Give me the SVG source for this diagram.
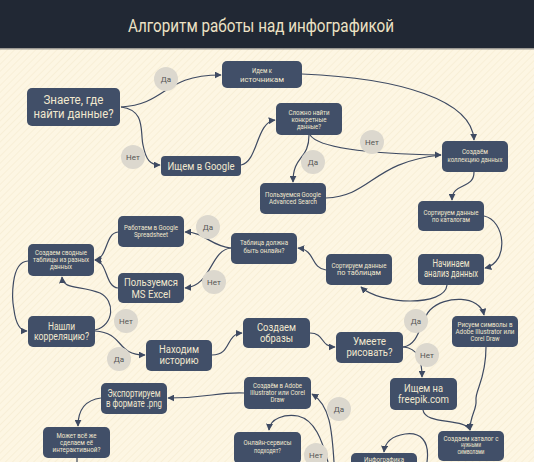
<svg xmlns="http://www.w3.org/2000/svg" width="534" height="462" viewBox="0 0 534 462">
<defs>
<pattern id="stripes" width="5" height="5" patternUnits="userSpaceOnUse" patternTransform="rotate(45)">
<rect width="5" height="5" fill="#fdf6e3"/>
<line x1="0" y1="0" x2="0" y2="5" stroke="#f7edd4" stroke-width="1.5"/>
</pattern>
<marker id="arr" viewBox="0 0 10 10" refX="9" refY="5" markerWidth="7" markerHeight="7" markerUnits="userSpaceOnUse" orient="auto">
<path d="M0,0 L10,5 L0,10 Z" fill="#3e4a62"/>
</marker>
</defs>
<style>
.n rect{fill:#414f68;}
.n text{fill:#f1e8cf;font-family:Roboto,"Noto Sans",sans-serif;text-anchor:middle;}
.s{font-size:7px;}
.m{font-size:11px;}
.b{font-size:12.5px;}
.c path{fill:none;stroke:#3e4a62;stroke-width:1.2;}
.c .a{marker-end:url(#arr);}
.l circle{fill:#dcd8ce;}
.l text{fill:#555;font-family:Roboto,"Noto Sans",sans-serif;font-size:8px;text-anchor:middle;}
</style>
<rect width="534" height="462" fill="url(#stripes)"/>
<rect width="534" height="48" fill="#212834"/>
<rect y="48" width="534" height="1.5" fill="#9c9a94"/>
<text x="261" y="32" fill="#ede2c5" font-family="Roboto,'Noto Sans',sans-serif" font-size="18" text-anchor="middle" textLength="266" lengthAdjust="spacingAndGlyphs">Алгоритм работы над инфографикой</text>

<g id="connectors" class="c">
<path class="a" d="M121,107 C168,104 162,75 221,75"/>
<path class="a" d="M121,107 C146,110 140,132 143,145 C146,160 150,165 160,165"/>
<path class="a" d="M302,74 C400,78 472,100 474,140"/>
<path class="a" d="M241,165 C258,162 256,122 275,120"/>
<path class="a" d="M310,135 C320,150 380,154 441,155"/>
<path class="a" d="M309,135 C309,160 293,155 293,182"/>
<path d="M326,198 C372,196 372,162 441,155"/>
<path class="a" d="M474,172 C474,190 452,182 452,200"/>
<path class="a" d="M484,216 C505,220 510,262 485,268"/>
<path class="a" d="M447,285 C445,307 380,305 361,287"/>
<path class="a" d="M326,270 C310,268 316,250 298,248"/>
<path class="a" d="M231,248 C210,246 205,232 185,232"/>
<path class="a" d="M231,248 C210,250 212,286 185,288"/>
<path class="a" d="M118,232 C105,233 108,258 95,260"/>
<path class="a" d="M118,288 C105,287 108,262 95,260"/>
<path class="a" d="M28,261 C10,262 12,300 14,310 C16,325 20,331 27,331"/>
<path class="a" d="M95,330 C115,325 115,300 100,293 C80,285 63,290 62,277"/>
<path class="a" d="M95,331 C125,333 115,355 145,355"/>
<path class="a" d="M212,355 C232,355 225,334 242,333"/>
<path class="a" d="M310,333 C325,333 320,347 335,347"/>
<path class="a" d="M403,347 C420,345 420,320 430,310 C445,295 480,295 484,315"/>
<path class="a" d="M403,347 C418,348 422,360 422,377"/>
<path class="a" d="M486,347 C486,380 475,390 476,400 C477,410 470,415 470,430"/>
<path class="a" d="M423,410 C425,425 465,418 470,430"/>
<path class="a" d="M427,462 C430,440 420,432 405,434 C392,436 385,442 384,452"/>
<path class="a" d="M244,393 C215,392 210,398 168,398"/>
<path class="a" d="M101,398 C85,400 78,410 78,426"/>
<path d="M77,458 L77,462"/>
<path class="a" d="M334,462 C332,430 330,405 312,394"/>
<path class="a" d="M328,462 C322,440 315,420 298,416 C285,414 270,418 269,430"/>
</g>

<g id="labels" class="l">
<circle cx="166" cy="79" r="12"/><text x="166" y="82">Да</text>
<circle cx="133" cy="157" r="12"/><text x="133" y="160">Нет</text>
<circle cx="372" cy="142" r="12"/><text x="372" y="145">Нет</text>
<circle cx="313" cy="162" r="12"/><text x="313" y="165">Да</text>
<circle cx="208" cy="227" r="12"/><text x="208" y="230">Да</text>
<circle cx="214" cy="282" r="12"/><text x="214" y="285">Нет</text>
<circle cx="126" cy="321" r="12"/><text x="126" y="324">Нет</text>
<circle cx="119" cy="359" r="12"/><text x="119" y="362">Да</text>
<circle cx="416" cy="321" r="12"/><text x="416" y="324">Да</text>
<circle cx="427" cy="355" r="12"/><text x="427" y="358">Нет</text>
<circle cx="339" cy="409" r="12"/><text x="339" y="412">Да</text>
<circle cx="316" cy="455" r="12"/><text x="316" y="458">Нет</text>
</g>

<g id="n-know" class="n"><rect x="27" y="88" width="93" height="38" rx="5"/>
<text class="b" x="73.5" y="104" textLength="60" lengthAdjust="spacingAndGlyphs">Знаете, где</text>
<text class="b" x="73.5" y="117.5" textLength="80" lengthAdjust="spacingAndGlyphs">найти данные?</text></g>

<g id="n-sources" class="n"><rect x="222" y="61" width="80" height="27" rx="5"/>
<text x="262" y="73" font-size="8" textLength="20" lengthAdjust="spacingAndGlyphs">Идем к</text>
<text x="262" y="82" font-size="8" textLength="44" lengthAdjust="spacingAndGlyphs">источникам</text></g>

<g id="n-google" class="n"><rect x="161" y="156" width="80" height="20" rx="4"/>
<text class="m" x="201" y="169.5" textLength="67" lengthAdjust="spacingAndGlyphs">Ищем в Google</text></g>

<g id="n-hard" class="n"><rect x="276" y="103" width="66" height="32" rx="5"/>
<text class="s" x="309" y="114.5" textLength="41" lengthAdjust="spacingAndGlyphs">Сложно найти</text>
<text class="s" x="309" y="121.5" textLength="35" lengthAdjust="spacingAndGlyphs">конкретные</text>
<text class="s" x="309" y="128.5" textLength="24" lengthAdjust="spacingAndGlyphs">данные?</text></g>

<g id="n-collection" class="n"><rect x="442" y="141" width="66" height="31" rx="5"/>
<text class="s" x="475" y="154" textLength="26" lengthAdjust="spacingAndGlyphs">Создаём</text>
<text class="s" x="475" y="162" textLength="55" lengthAdjust="spacingAndGlyphs">коллекцию данных</text></g>

<g id="n-advanced" class="n"><rect x="260" y="183" width="66" height="31" rx="5"/>
<text class="s" x="293" y="196.5" textLength="56" lengthAdjust="spacingAndGlyphs">Пользуемся Google</text>
<text class="s" x="293" y="204" textLength="48" lengthAdjust="spacingAndGlyphs">Advanced Search</text></g>

<g id="n-catalogs" class="n"><rect x="418" y="201" width="66" height="30" rx="5"/>
<text class="s" x="451" y="214.5" textLength="55" lengthAdjust="spacingAndGlyphs">Сортируем данные</text>
<text class="s" x="451" y="222" textLength="38" lengthAdjust="spacingAndGlyphs">по каталогам</text></g>

<g id="n-analysis" class="n"><rect x="418" y="254" width="66" height="31" rx="5"/>
<text x="451" y="266.5" font-size="10" textLength="37" lengthAdjust="spacingAndGlyphs">Начинаем</text>
<text x="451" y="276.5" font-size="10" textLength="54" lengthAdjust="spacingAndGlyphs">анализ данных</text></g>

<g id="n-tables" class="n"><rect x="326" y="254" width="66" height="31" rx="5"/>
<text class="s" x="359" y="267.5" textLength="55" lengthAdjust="spacingAndGlyphs">Сортируем данные</text>
<text class="s" x="359" y="275" textLength="44" lengthAdjust="spacingAndGlyphs">по таблицам</text></g>

<g id="n-online" class="n"><rect x="231" y="233" width="66" height="31" rx="5"/>
<text class="s" x="264" y="245" textLength="48" lengthAdjust="spacingAndGlyphs">Таблица должна</text>
<text class="s" x="264" y="252.5" textLength="41" lengthAdjust="spacingAndGlyphs">быть онлайн?</text></g>

<g id="n-spreadsheet" class="n"><rect x="118" y="216" width="66" height="31" rx="5"/>
<text class="s" x="151" y="229.5" textLength="54" lengthAdjust="spacingAndGlyphs">Работаем в Google</text>
<text class="s" x="151" y="237" textLength="34" lengthAdjust="spacingAndGlyphs">Spreadsheet</text></g>

<g id="n-excel" class="n"><rect x="118" y="273" width="66" height="30" rx="5"/>
<text x="151" y="286" font-size="11.5" textLength="54" lengthAdjust="spacingAndGlyphs">Пользуемся</text>
<text x="151" y="297.5" font-size="11.5" textLength="39" lengthAdjust="spacingAndGlyphs">MS Excel</text></g>

<g id="n-pivot" class="n"><rect x="28" y="244" width="66" height="32" rx="5"/>
<text class="s" x="61" y="255" textLength="52" lengthAdjust="spacingAndGlyphs">Создаем сводные</text>
<text class="s" x="61" y="262" textLength="56" lengthAdjust="spacingAndGlyphs">таблицы из разных</text>
<text class="s" x="61" y="269" textLength="22" lengthAdjust="spacingAndGlyphs">данных</text></g>

<g id="n-correlation" class="n"><rect x="28" y="316" width="67" height="31" rx="5"/>
<text class="m" x="61.5" y="329.5" textLength="27" lengthAdjust="spacingAndGlyphs">Нашли</text>
<text class="m" x="61.5" y="340" textLength="55" lengthAdjust="spacingAndGlyphs">корреляцию?</text></g>

<g id="n-story" class="n"><rect x="146" y="340" width="66" height="31" rx="5"/>
<text class="m" x="179" y="353" textLength="40" lengthAdjust="spacingAndGlyphs">Находим</text>
<text class="m" x="179" y="363.5" textLength="39" lengthAdjust="spacingAndGlyphs">историю</text></g>

<g id="n-images" class="n"><rect x="243" y="318" width="67" height="30" rx="5"/>
<text class="m" x="276.5" y="330.5" textLength="39" lengthAdjust="spacingAndGlyphs">Создаем</text>
<text class="m" x="276.5" y="341.5" textLength="33" lengthAdjust="spacingAndGlyphs">образы</text></g>

<g id="n-draw" class="n"><rect x="336" y="332" width="67" height="31" rx="5"/>
<text class="m" x="369.5" y="345" textLength="33" lengthAdjust="spacingAndGlyphs">Умеете</text>
<text class="m" x="369.5" y="356" textLength="46" lengthAdjust="spacingAndGlyphs">рисовать?</text></g>

<g id="n-symbols" class="n"><rect x="452" y="316" width="66" height="31" rx="5"/>
<text class="s" x="485" y="326.5" textLength="55" lengthAdjust="spacingAndGlyphs">Рисуем символы в</text>
<text class="s" x="485" y="333.5" textLength="59" lengthAdjust="spacingAndGlyphs">Adobe Illustrator или</text>
<text class="s" x="485" y="340.5" textLength="29" lengthAdjust="spacingAndGlyphs">Corel Draw</text></g>

<g id="n-freepik" class="n"><rect x="390" y="378" width="67" height="32" rx="5"/>
<text x="423.5" y="391.5" font-size="11.5" textLength="39" lengthAdjust="spacingAndGlyphs">Ищем на</text>
<text x="423.5" y="403" font-size="11.5" textLength="51" lengthAdjust="spacingAndGlyphs">freepik.com</text></g>

<g id="n-create-adobe" class="n"><rect x="244" y="377" width="67" height="32" rx="5"/>
<text class="s" x="277.5" y="388" textLength="49" lengthAdjust="spacingAndGlyphs">Создаём в Adobe</text>
<text class="s" x="277.5" y="395" textLength="55" lengthAdjust="spacingAndGlyphs">Illustrator или Corel</text>
<text class="s" x="277.5" y="402" textLength="14" lengthAdjust="spacingAndGlyphs">Draw</text></g>

<g id="n-export" class="n"><rect x="101" y="383" width="66" height="31" rx="5"/>
<text x="134" y="397" font-size="10" textLength="53" lengthAdjust="spacingAndGlyphs">Экспортируем</text>
<text x="134" y="407" font-size="10" textLength="56" lengthAdjust="spacingAndGlyphs">в формате .png</text></g>

<g id="n-interactive" class="n"><rect x="43" y="427" width="67" height="31" rx="5"/>
<text class="s" x="76.5" y="437.5" textLength="40" lengthAdjust="spacingAndGlyphs">Может всё же</text>
<text class="s" x="76.5" y="444.5" textLength="33" lengthAdjust="spacingAndGlyphs">сделаем её</text>
<text class="s" x="76.5" y="451.5" textLength="48" lengthAdjust="spacingAndGlyphs">интерактивной?</text></g>

<g id="n-services" class="n"><rect x="234" y="432" width="67" height="32" rx="5"/>
<text class="s" x="267.5" y="445" textLength="48" lengthAdjust="spacingAndGlyphs">Онлайн-сервисы</text>
<text class="s" x="267.5" y="452.5" textLength="27" lengthAdjust="spacingAndGlyphs">подходят?</text></g>

<g id="n-infographic" class="n"><rect x="351" y="453" width="66" height="31" rx="5"/>
<text class="s" x="384" y="461.5" textLength="40" lengthAdjust="spacingAndGlyphs">Инфографика</text></g>

<g id="n-symbol-catalog" class="n"><rect x="438" y="431" width="66" height="30" rx="5"/>
<text class="s" x="471" y="440.5" textLength="55" lengthAdjust="spacingAndGlyphs">Создаем каталог с</text>
<text class="s" x="471" y="447" textLength="20" lengthAdjust="spacingAndGlyphs">нужными</text>
<text class="s" x="471" y="453.5" textLength="27" lengthAdjust="spacingAndGlyphs">символами</text></g>
</svg>
